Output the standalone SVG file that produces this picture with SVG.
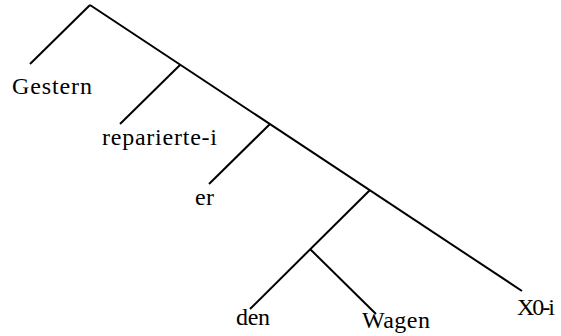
<svg xmlns="http://www.w3.org/2000/svg" width="561" height="336" viewBox="0 0 561 336">
  <style>
    .edge { stroke: #000; stroke-width: 2; fill: none; stroke-linecap: butt; }
    .leaf { font-size: 24px; fill: #000; }
  </style>
  <rect width="561" height="336" fill="#fff"/>

  <!-- tree branches -->
  <g id="connectors">
    <line class="edge" x1="90" y1="5" x2="30" y2="64"/>
    <line class="edge" x1="90" y1="5" x2="522" y2="291"/>
    <line class="edge" x1="180" y1="65" x2="120" y2="124"/>
    <line class="edge" x1="270" y1="124" x2="209" y2="184"/>
    <line class="edge" x1="370" y1="190" x2="250" y2="309"/>
    <line class="edge" x1="310" y1="249" x2="376" y2="314"/>
  </g>

  <!-- leaves -->
  <g font-family="'Liberation Serif', 'DejaVu Serif', serif">
    <g id="node-gestern"><text class="leaf" x="12" y="94" textLength="80" lengthAdjust="spacing">Gestern</text></g>
    <g id="node-reparierte"><text class="leaf" x="102" y="145" textLength="115" lengthAdjust="spacing">reparierte-i</text></g>
    <g id="node-er"><text class="leaf" x="195" y="205" textLength="19" lengthAdjust="spacing">er</text></g>
    <g id="node-den"><text class="leaf" x="236" y="325" textLength="34" lengthAdjust="spacing">den</text></g>
    <g id="node-wagen"><text class="leaf" x="362" y="328" textLength="68" lengthAdjust="spacing">Wagen</text></g>
    <g id="node-x0"><text class="leaf" x="517" y="315" textLength="38" lengthAdjust="spacing">X0-i</text></g>
  </g>
</svg>
